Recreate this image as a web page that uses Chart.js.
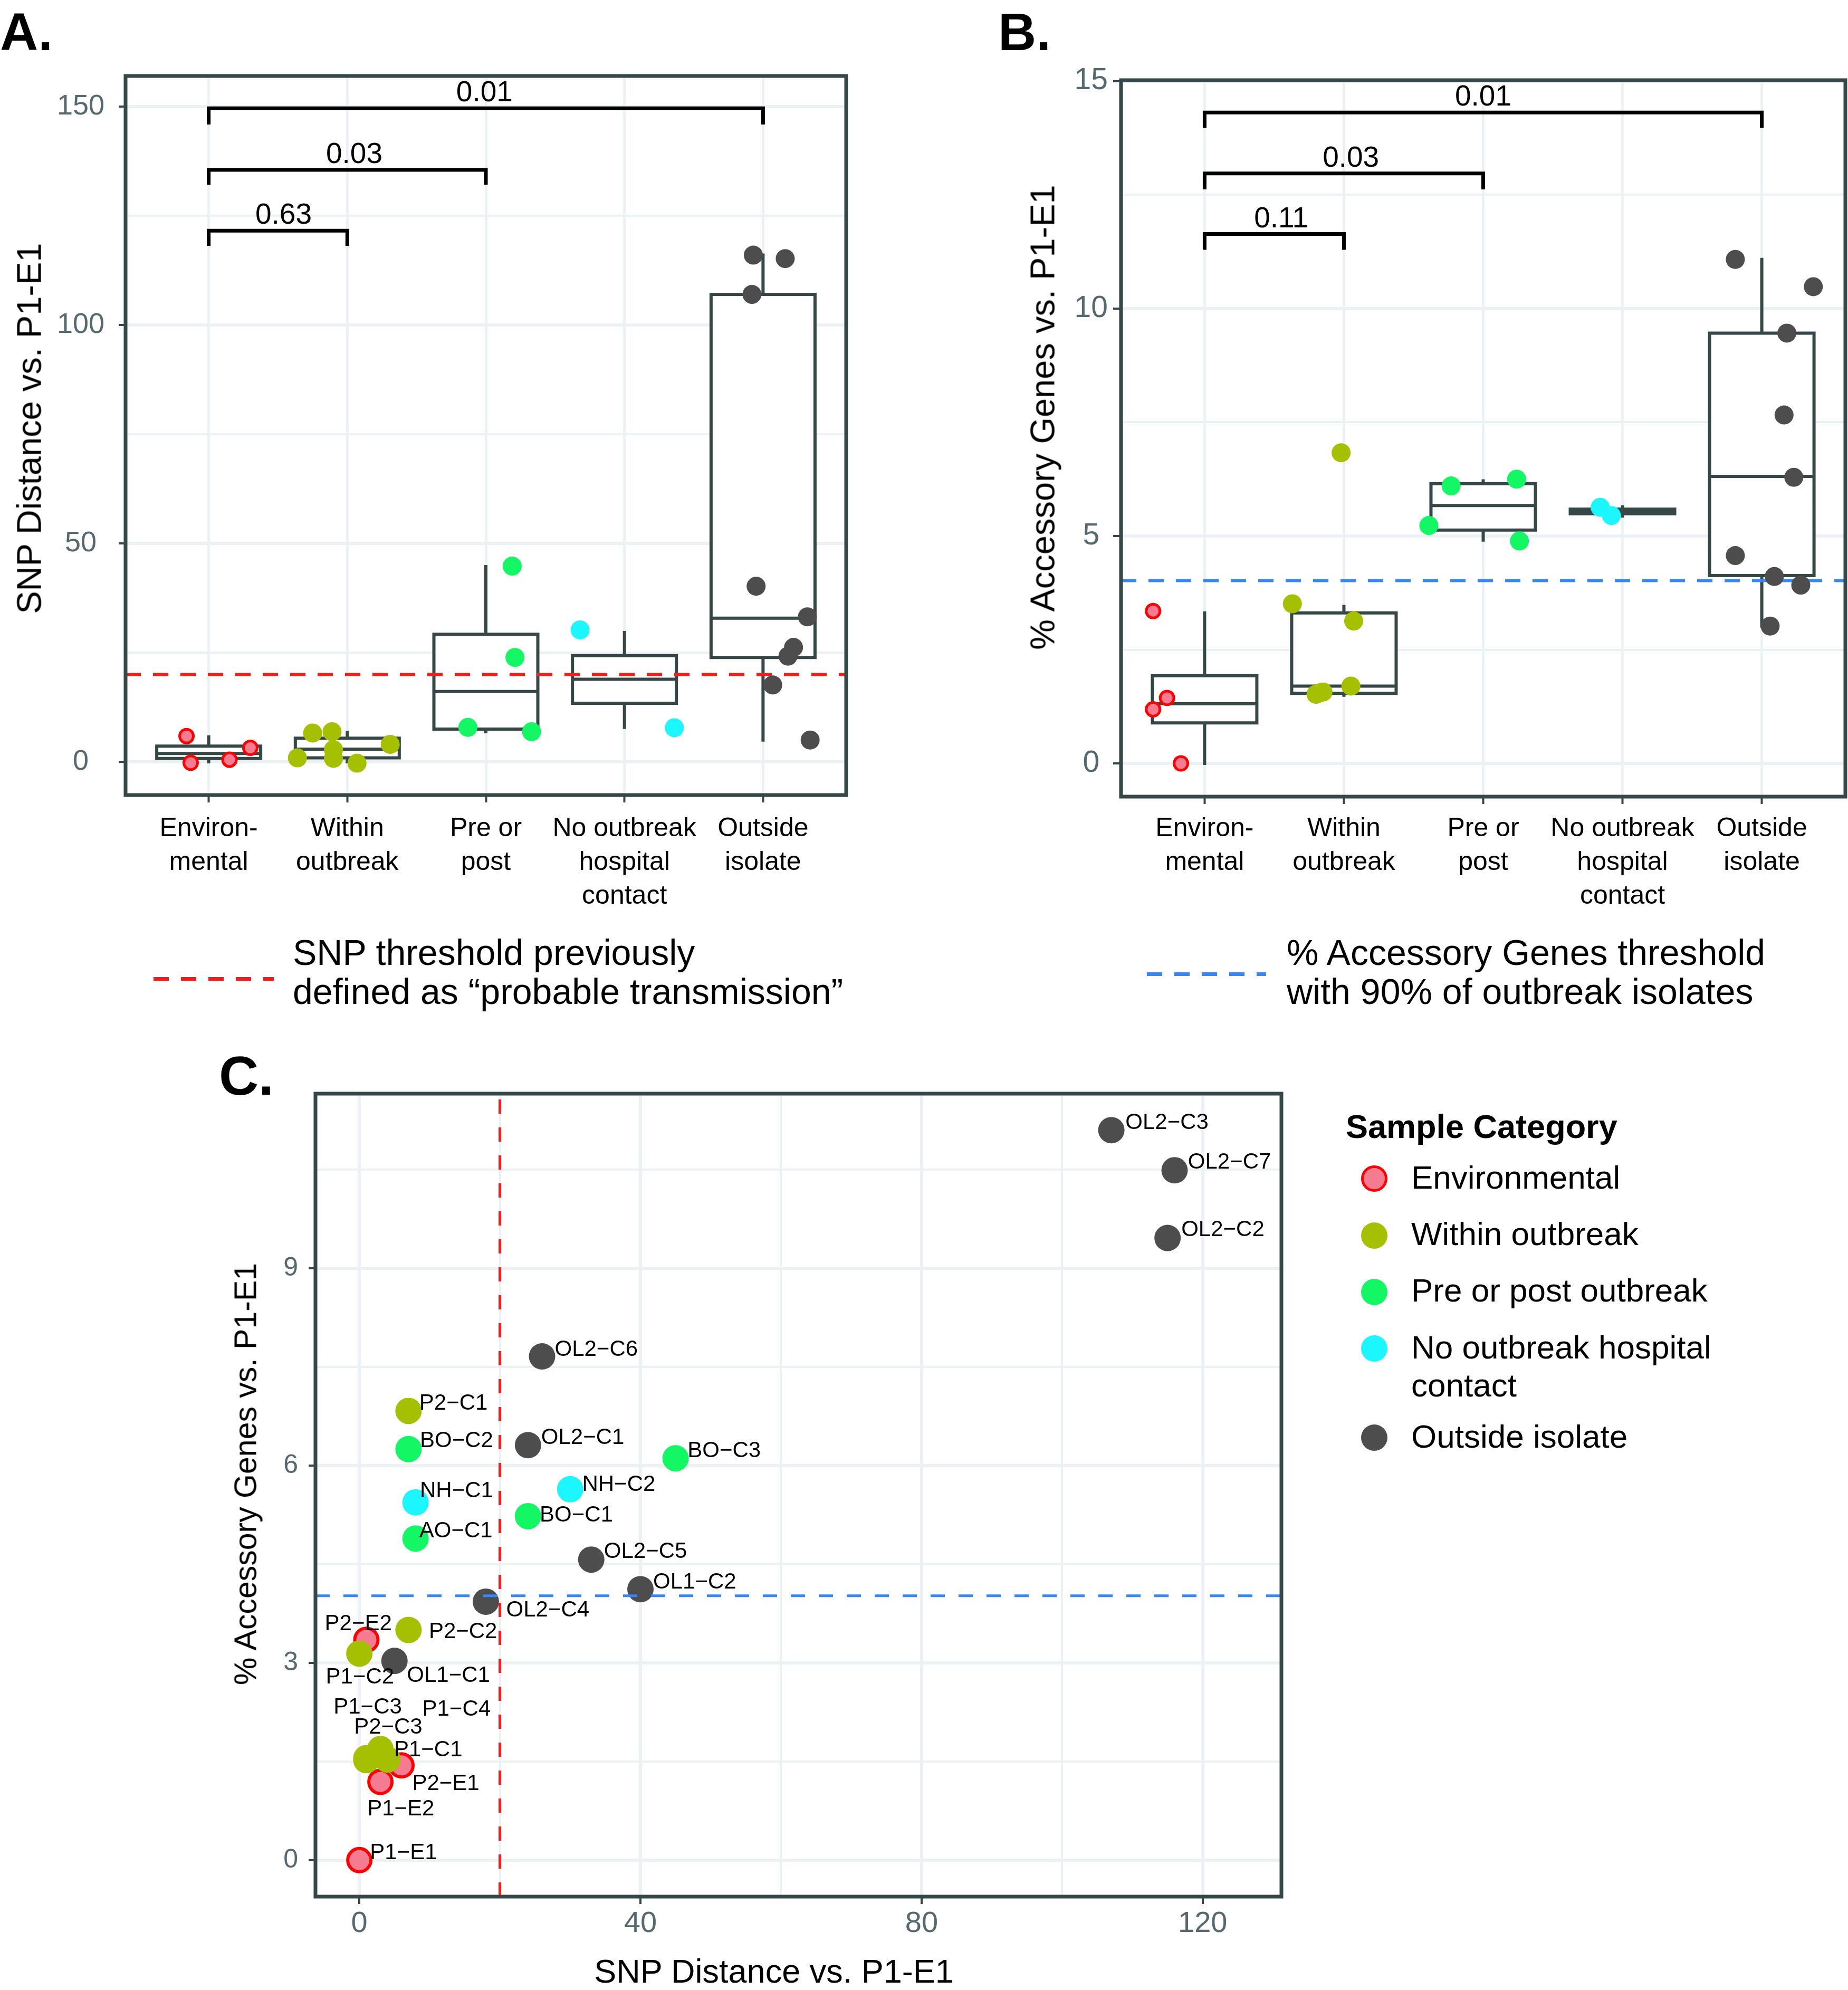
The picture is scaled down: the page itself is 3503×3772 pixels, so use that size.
<!DOCTYPE html>
<html>
<head>
<meta charset="utf-8">
<title>SNP distance and accessory genes vs P1-E1</title>
<script src="https://cdn.jsdelivr.net/npm/chart.js@4.4.1/dist/chart.umd.min.js"></script>
<style>
  html, body { margin: 0; padding: 0; background: #fff; }
  body { position: relative; width: 3503px; height: 3772px; overflow: hidden;
         font-family: "Liberation Sans", Arial, Helvetica, sans-serif; color: #000; }
  canvas { position: absolute; }
  .t { position: absolute; white-space: nowrap; line-height: 1; }
  .panel { font-weight: bold; font-size: 100px; }
  .ytitle { position: absolute; white-space: nowrap; line-height: 1; transform: translate(-50%, -50%) rotate(-90deg); }
  .dash { position: absolute; height: 7px; }
  .key { position: absolute; width: 50px; height: 50px; border-radius: 50%; box-sizing: border-box; }
</style>
</head>
<body>
<div class="t panel" style="left:0;top:10px">A.</div>
<div class="t panel" style="left:1892px;top:10px">B.</div>
<div class="t panel" style="left:415px;top:1987px;font-size:104px">C.</div>

<canvas id="chartA" width="1680" height="1740" style="left:0;top:0"></canvas>
<canvas id="chartB" width="1703" height="1740" style="left:1800px;top:0"></canvas>
<canvas id="chartC" width="2140" height="1792" style="left:380px;top:1980px"></canvas>

<div class="ytitle" style="left:55px;top:812px;font-size:65px">SNP Distance vs. P1-E1</div>
<div class="ytitle" style="left:1976px;top:791px;font-size:65px">% Accessory Genes vs. P1-E1</div>
<div class="ytitle" style="left:466px;top:2794px;font-size:59px">% Accessory Genes vs. P1-E1</div>
<div class="t" style="left:1467px;top:3705px;font-size:63px;transform:translateX(-50%)">SNP Distance vs. P1-E1</div>

<!-- threshold keys under panels A and B -->
<div class="dash" style="left:291px;top:1852px;width:228px;background:repeating-linear-gradient(to right,#FF1A1A 0 29px,transparent 29px 52px)"></div>
<div class="t" style="left:555px;top:1768px;font-size:68px;line-height:74px">SNP threshold previously<br>defined as “probable transmission”</div>
<div class="dash" style="left:2174px;top:1843px;width:226px;background:repeating-linear-gradient(to right,#3388FF 0 29px,transparent 29px 52px)"></div>
<div class="t" style="left:2439px;top:1768px;font-size:68px;line-height:74px">% Accessory Genes threshold<br>with 90% of outbreak isolates</div>

<!-- legend of panel C -->
<div class="t" style="left:2551px;top:2104px;font-size:63px;font-weight:bold">Sample Category</div>
<div id="legendC"></div>

<script>
// ---------- data ----------
const categories = [['Environ-', 'mental'], ['Within', 'outbreak'], ['Pre or', 'post'], ['No outbreak', 'hospital', 'contact'], ['Outside', 'isolate']]
const groupNames = ['Environmental', 'Within outbreak', 'Pre or post outbreak', ['No outbreak hospital', 'contact'], 'Outside isolate']

// A. SNP distance vs P1-E1, points as drawn [jittered category position, SNPs]
const snpEnvironmental = [[0.84, 5.9], [0.87, -0.2], [1.15, 0.5], [1.30, 3.2]]
const snpWithin = [[1.75, 6.6], [1.89, 6.9], [1.64, 0.9], [1.90, 2.8], [1.90, 0.8], [2.07, -0.3], [2.31, 4.0]]
const snpPrePost = [[2.87, 7.9], [3.19, 44.8], [3.21, 23.9], [3.33, 6.9]]
const snpNoOutbreak = [[3.68, 30.2], [4.36, 7.8]]
const snpOutside = [[4.93, 116.0], [5.16, 115.2], [4.92, 107.0], [4.95, 40.2], [5.32, 33.2], [5.22, 26.2], [5.18, 24.2], [5.07, 17.6], [5.34, 5.0]]
// A. box plots, one value per category
const snpBoxMin = [0.0, 0.0, 6.9, 7.9, 5.0]
const snpBoxQ1 = [0.75, 0.9, 7.5, 13.4, 23.9]
const snpBoxMedian = [1.9, 2.9, 16.1, 18.9, 32.9]
const snpBoxQ3 = [3.6, 5.4, 29.2, 24.3, 107.0]
const snpBoxMax = [5.7, 6.7, 44.7, 29.6, 116.0]
const snpThreshold = 20
const snpTicks = [0, 25, 50, 75, 100, 125, 150]
// A. comparisons against Environmental
const snpPairEnd = [2, 3, 5]
const snpPairLevel = [121.6, 135.5, 149.6]
const snpPairTip = [118.1, 132.1, 145.9]
const snpPairP = ['0.63', '0.03', '0.01']
const snpPairTextX = [1.54, 2.05, 2.99]

// B. % accessory genes vs P1-E1
const accEnvironmental = [[0.63, 3.35], [0.73, 1.44], [0.63, 1.19], [0.83, 0.0]]
const accWithin = [[1.63, 3.51], [2.07, 3.13], [1.98, 6.83], [1.82, 1.55], [1.85, 1.57], [2.05, 1.70], [1.80, 1.52]]
const accPrePost = [[2.77, 6.10], [2.61, 5.23], [3.24, 6.25], [3.26, 4.89]]
const accNoOutbreak = [[3.84, 5.63], [3.92, 5.45]]
const accOutside = [[4.81, 11.08], [5.37, 10.48], [5.18, 9.46], [5.16, 7.66], [5.23, 6.29], [4.81, 4.57], [5.09, 4.11], [5.28, 3.92], [5.06, 3.02]]
const accBoxMin = [0.0, 1.5, 4.91, 5.44, 3.02]
const accBoxQ1 = [0.89, 1.54, 5.13, 5.49, 4.13]
const accBoxMedian = [1.31, 1.70, 5.67, 5.54, 6.31]
const accBoxQ3 = [1.93, 3.31, 6.15, 5.59, 9.46]
const accBoxMax = [3.31, 3.45, 6.21, 5.64, 11.08]
const accThreshold = 4.02
const accTicks = [0, 2.5, 5, 7.5, 10, 12.5, 15]
const accPairEnd = [2, 3, 5]
const accPairLevel = [11.64, 12.97, 14.31]
const accPairTip = [11.29, 12.62, 13.97]
const accPairP = ['0.11', '0.03', '0.01']
const accPairTextX = [1.55, 2.05, 3.0]

// C. isolates: [name, SNP distance, % accessory genes]
const isoEnvironmental = [['P1-E1', 0, 0.0], ['P1-E2', 3, 1.19], ['P2-E1', 6, 1.44], ['P2-E2', 1, 3.35]]
const isoWithin = [['P2-C1', 7, 6.83], ['P2-C2', 7, 3.50], ['P1-C2', 0, 3.14], ['P1-C3', 1, 1.52], ['P1-C1', 1, 1.55], ['P2-C3', 3, 1.69], ['P1-C4', 4, 1.53]]
const isoPrePost = [['BO-C2', 7, 6.25], ['BO-C3', 45, 6.11], ['BO-C1', 24, 5.23], ['AO-C1', 8, 4.89]]
const isoNoOutbreak = [['NH-C1', 8, 5.44], ['NH-C2', 30, 5.64]]
const isoOutside = [['OL2-C3', 107, 11.10], ['OL2-C7', 116, 10.49], ['OL2-C2', 115, 9.46], ['OL2-C6', 26, 7.66], ['OL2-C1', 24, 6.31],
  ['OL2-C5', 33, 4.57], ['OL1-C2', 40, 4.12], ['OL2-C4', 18, 3.93], ['OL1-C1', 5, 3.03]]
const snpTicksC = [0, 20, 40, 60, 80, 100, 120]
const accTicksC = [0, 1.5, 3, 4.5, 6, 7.5, 9, 10.5]

// where the repelled name labels sit (left edge, middle), in data units
const labelSpots = {
  'OL2-C3': [109.0, 11.21], 'OL2-C7': [117.9, 10.61], 'OL2-C2': [116.95, 9.58], 'OL2-C6': [27.8, 7.76],
  'P2-C1': [8.53, 6.94], 'BO-C2': [8.62, 6.37], 'OL2-C1': [25.87, 6.42], 'BO-C3': [46.7, 6.22],
  'NH-C2': [31.7, 5.71], 'NH-C1': [8.62, 5.61], 'BO-C1': [25.67, 5.24], 'AO-C1': [8.53, 5.0],
  'OL2-C5': [34.8, 4.69], 'OL1-C2': [41.8, 4.22], 'OL2-C4': [20.9, 3.80], 'P2-E2': [-4.92, 3.59],
  'P2-C2': [9.89, 3.47], 'P1-C2': [-4.77, 2.78], 'OL1-C1': [6.77, 2.80], 'P1-C3': [-3.67, 2.32],
  'P1-C4': [8.96, 2.29], 'P2-C3': [-0.75, 2.02], 'P1-C1': [4.94, 1.67], 'P2-E1': [7.53, 1.16],
  'P1-E2': [1.13, 0.77], 'P1-E1': [1.51, 0.11]
}

// ---------- styles ----------
const groupFill = ['#F57C90', '#A5C000', '#12F763', '#1CF6FF', '#4D4D4D']
const envRing = '#FF0000'
const frameColor = '#354747'
const gridColor = '#ECF1F4'
const tickGrey = '#56696E'
const redLine = '#FF1A1A'
const blueLine = '#3388FF'

Chart.defaults.font.family = '"Liberation Sans", Arial, Helvetica, sans-serif'
Chart.defaults.color = '#000'

// ---------- helpers ----------
const toXY = arr => arr.map(([x, y]) => ({ x, y }))

// box outline, median and whiskers as one broken line
const boxLines = (mins, q1, med, q3, maxs) => {
    const pts = []
    for (let i = 0; i < mins.length; i++) {
        const c = i + 1, l = c - 0.375, r = c + 0.375
        pts.push({ x: l, y: q1[i] }, { x: r, y: q1[i] }, { x: r, y: q3[i] }, { x: l, y: q3[i] }, { x: l, y: q1[i] }, { x: l, y: null })
        pts.push({ x: l, y: med[i] }, { x: r, y: med[i] }, { x: r, y: null })
        pts.push({ x: c, y: q3[i] }, { x: c, y: maxs[i] }, { x: c, y: null })
        pts.push({ x: c, y: mins[i] }, { x: c, y: q1[i] }, { x: c, y: null })
    }
    return pts
}

const bracketLines = (ends, levels, tips) => {
    const pts = []
    ends.forEach((e, i) => {
        pts.push({ x: 1, y: tips[i] }, { x: 1, y: levels[i] }, { x: e, y: levels[i] }, { x: e, y: tips[i] }, { x: e, y: null })
    })
    return pts
}

const panelFrame = {
    id: 'panelFrame',
    afterDraw(chart) {
        const { ctx, chartArea: a } = chart
        ctx.save()
        ctx.strokeStyle = frameColor
        ctx.lineWidth = 7
        ctx.strokeRect(a.left, a.top, a.right - a.left, a.bottom - a.top)
        ctx.restore()
    }
}

// p-values above the comparison brackets
const pValues = {
    id: 'pValues',
    afterDatasetsDraw(chart, args, opts) {
        if (!opts.texts) return
        const { ctx, scales: { x, y } } = chart
        ctx.save()
        ctx.font = '55px ' + Chart.defaults.font.family
        ctx.fillStyle = '#000'
        ctx.textAlign = 'center'
        ctx.textBaseline = 'middle'
        opts.texts.forEach((t, i) => {
            ctx.fillText(t, x.getPixelForValue(opts.textX[i]), y.getPixelForValue(opts.levels[i]) - 28)
        })
        ctx.restore()
    }
}

const boxChart = (id, groups, box, threshold, lineColor, pairs, yCfg) => {
    const pointSets = groups.map((g, i) => ({
        type: 'scatter',
        data: toXY(g),
        pointRadius: i === 0 ? 13 : 18,
        pointBorderWidth: i === 0 ? 5 : 0,
        pointBackgroundColor: groupFill[i],
        pointBorderColor: i === 0 ? envRing : groupFill[i],
        order: 1
    }))
    return new Chart(document.getElementById(id), {
        type: 'scatter',
        data: {
            datasets: [
                {
                    type: 'bar',
                    data: box[1].map((q, i) => ({ x: i + 1, y: [q, box[3][i]] })),
                    backgroundColor: '#fff',
                    borderWidth: 0,
                    categoryPercentage: 1,
                    barPercentage: 0.75,
                    order: 5
                },
                {
                    type: 'line',
                    data: boxLines(...box),
                    borderColor: frameColor,
                    borderWidth: 6,
                    pointRadius: 0,
                    spanGaps: false,
                    borderJoinStyle: 'miter',
                    borderCapStyle: 'square',
                    order: 4
                },
                {
                    type: 'line',
                    data: [{ x: 0.4, y: threshold }, { x: 5.6, y: threshold }],
                    borderColor: lineColor,
                    borderWidth: 6,
                    borderDash: [29, 23],
                    pointRadius: 0,
                    order: 3
                },
                ...pointSets,
                {
                    type: 'line',
                    data: bracketLines(pairs.ends, pairs.levels, pairs.tips),
                    borderColor: '#000',
                    borderWidth: 7,
                    pointRadius: 0,
                    spanGaps: false,
                    borderJoinStyle: 'miter',
                    order: 0
                }
            ]
        },
        options: {
            responsive: false,
            animation: false,
            devicePixelRatio: 1,
            events: [],
            layout: { autoPadding: false, padding: yCfg.padding },
            plugins: {
                legend: { display: false },
                tooltip: { enabled: false },
                pValues: pairs
            },
            scales: {
                x: {
                    type: 'linear', min: 0.4, max: 5.6, offset: false,
                    afterBuildTicks: s => { s.ticks = categories.map((_, i) => ({ value: i + 1 })) },
                    afterFit: s => { s.height = yCfg.xHeight; s.paddingLeft = 0; s.paddingRight = 0 },
                    ticks: {
                        callback: v => categories[v - 1], color: '#000',
                        font: { size: 50, lineHeight: 1.28 }, padding: yCfg.xPad, maxRotation: 0, autoSkip: false
                    },
                    grid: { offset: false, color: gridColor, lineWidth: 5, tickLength: 14, tickColor: frameColor, tickWidth: 4 },
                    border: { display: false }
                },
                y: {
                    type: 'linear', min: yCfg.min, max: yCfg.max,
                    afterBuildTicks: s => { s.ticks = yCfg.ticks.map(value => ({ value })) },
                    afterFit: s => { s.width = yCfg.width },
                    ticks: {
                        callback: v => (v % yCfg.major === 0 ? String(v) : ''), color: tickGrey,
                        font: { size: yCfg.fontSize }, padding: yCfg.yPad, crossAlign: 'center'
                    },
                    grid: {
                        color: gridColor,
                        lineWidth: c => (c.tick && c.tick.value % yCfg.major === 0 ? 6 : 4),
                        tickLength: yCfg.tickLen,
                        tickColor: c => (c.tick && c.tick.value % yCfg.major === 0 ? frameColor : 'rgba(0,0,0,0)'),
                        tickWidth: 4
                    },
                    border: { display: false }
                }
            }
        },
        plugins: [pValues, panelFrame]
    })
}

// ---------- panel A ----------
boxChart('chartA',
    [snpEnvironmental, snpWithin, snpPrePost, snpNoOutbreak, snpOutside],
    [snpBoxMin, snpBoxQ1, snpBoxMedian, snpBoxQ3, snpBoxMax],
    snpThreshold, redLine,
    { ends: snpPairEnd, levels: snpPairLevel, tips: snpPairTip, texts: snpPairP, textX: snpPairTextX },
    { min: -7.6, max: 157, ticks: snpTicks, major: 50, width: 238, xHeight: 233, xPad: 18, yPad: 27, tickLen: 13, fontSize: 54,
      padding: { left: 0, top: 144, right: 76, bottom: 0 } })

// ---------- panel B ----------
boxChart('chartB',
    [accEnvironmental, accWithin, accPrePost, accNoOutbreak, accOutside],
    [accBoxMin, accBoxQ1, accBoxMedian, accBoxQ3, accBoxMax],
    accThreshold, blueLine,
    { ends: accPairEnd, levels: accPairLevel, tips: accPairTip, texts: accPairP, textX: accPairTextX },
    { min: -0.73, max: 15.02, ticks: accTicks, major: 5, width: 325, xHeight: 230, xPad: 15, yPad: 10, tickLen: 15, fontSize: 57,
      padding: { left: 0, top: 152, right: 5, bottom: 0 } })

// ---------- panel C ----------
const isoGroups = [isoEnvironmental, isoWithin, isoPrePost, isoNoOutbreak, isoOutside]

const isolateNames = {
    id: 'isolateNames',
    afterDatasetsDraw(chart) {
        const { ctx, scales: { x, y } } = chart
        ctx.save()
        ctx.font = '42px ' + Chart.defaults.font.family
        ctx.fillStyle = '#000'
        ctx.textAlign = 'left'
        ctx.textBaseline = 'middle'
        isoGroups.flat().forEach(([name]) => {
            const [lx, ly] = labelSpots[name]
            ctx.fillText(name.replace('-', '\u2212'), x.getPixelForValue(lx), y.getPixelForValue(ly))
        })
        ctx.restore()
    }
}

new Chart(document.getElementById('chartC'), {
    type: 'scatter',
    data: {
        datasets: [
            ...isoGroups.map((g, i) => ({
                data: g.map(([, x, y]) => ({ x, y })),
                pointRadius: i === 0 ? 22 : 25,
                pointBorderWidth: i === 0 ? 6 : 0,
                pointBackgroundColor: groupFill[i],
                pointBorderColor: i === 0 ? envRing : groupFill[i],
                order: 5 - i
            })),
            {
                type: 'line',
                data: [{ x: snpThreshold, y: -0.555 }, { x: snpThreshold, y: 11.655 }],
                borderColor: redLine, borderWidth: 5, borderDash: [27, 26], pointRadius: 0, order: 0
            },
            {
                type: 'line',
                data: [{ x: -6.24, y: accThreshold }, { x: 131.2, y: accThreshold }],
                borderColor: blueLine, borderWidth: 5, borderDash: [27, 26], pointRadius: 0, order: 0
            }
        ]
    },
    options: {
        responsive: false,
        animation: false,
        devicePixelRatio: 1,
        events: [],
        layout: { autoPadding: false, padding: { left: 0, top: 93, right: 91, bottom: 0 } },
        plugins: { legend: { display: false }, tooltip: { enabled: false } },
        scales: {
            x: {
                type: 'linear', min: -6.24, max: 131.2,
                afterBuildTicks: s => { s.ticks = snpTicksC.map(value => ({ value })) },
                afterFit: s => { s.height = 177; s.paddingLeft = 0; s.paddingRight = 0 },
                ticks: { callback: v => (v % 40 === 0 ? String(v) : ''), color: tickGrey, font: { size: 56 }, padding: 4, maxRotation: 0, autoSkip: false },
                grid: {
                    color: gridColor,
                    lineWidth: c => (c.tick && c.tick.value % 40 === 0 ? 6 : 4),
                    tickLength: 14,
                    tickColor: c => (c.tick && c.tick.value % 40 === 0 ? frameColor : 'rgba(0,0,0,0)'),
                    tickWidth: 4
                },
                border: { display: false }
            },
            y: {
                type: 'linear', min: -0.555, max: 11.655,
                afterBuildTicks: s => { s.ticks = accTicksC.map(value => ({ value })) },
                afterFit: s => { s.width = 218 },
                ticks: { callback: v => (v % 3 === 0 ? String(v) : ''), color: tickGrey, font: { size: 50 }, padding: 20 },
                grid: {
                    color: gridColor,
                    lineWidth: c => (c.tick && c.tick.value % 3 === 0 ? 6 : 4),
                    tickLength: 13,
                    tickColor: c => (c.tick && c.tick.value % 3 === 0 ? frameColor : 'rgba(0,0,0,0)'),
                    tickWidth: 4
                },
                border: { display: false }
            }
        }
    },
    plugins: [isolateNames, panelFrame]
})

// legend keys and labels for panel C
const legendC = document.getElementById('legendC')
const keyCentres = [2234, 2341.5, 2448.6, 2555.8, 2725]
groupNames.forEach((name, i) => {
    const key = document.createElement('div')
    key.className = 'key'
    key.style.left = '2580px'
    key.style.top = (keyCentres[i] - 25) + 'px'
    key.style.background = groupFill[i]
    if (i === 0) key.style.border = '5px solid ' + envRing
    legendC.appendChild(key)

    const label = document.createElement('div')
    label.className = 't'
    label.style.left = '2675px'
    label.style.fontSize = '62px'
    if (Array.isArray(name)) {
        label.style.lineHeight = '72px'
        label.style.top = (keyCentres[i] + 20 - 57.5) + 'px'
        label.innerHTML = name.join('<br>')
    } else {
        label.style.top = (keyCentres[i] + 19 - 52.5) + 'px'
        label.textContent = name
    }
    legendC.appendChild(label)
})
</script>
</body>
</html>
